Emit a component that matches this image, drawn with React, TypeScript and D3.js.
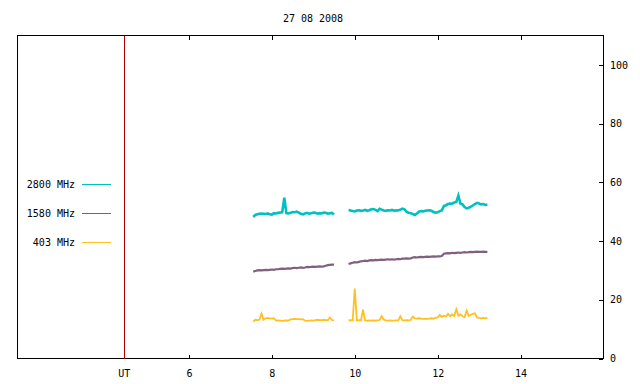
import { useEffect, useRef } from "react";
import * as d3 from "d3";

// chart texts and ticks
const title = "27 08 2008";
const xTicks = [6, 8, 10, 12, 14];
const yTicks = [0, 20, 40, 60, 80, 100];
const utTime = 4.44; // red marker line, labelled "UT"

// sampling of the two observing runs (hours UT)
const sampleStep = 0.05;
const run1Start = 7.55;
const run2Start = 9.85;

// 2800 MHz flux, run 1 and run 2
const f2800Run1 = [
  48.2, 48.9, 49.1, 49.3, 49.4, 49.3, 49.2, 49.4, 49.1, 49.0,
  49.5, 49.4, 49.6, 49.7, 49.8, 54.8, 49.5, 49.4, 49.6, 49.9,
  49.8, 50.0, 49.7, 49.3, 49.1, 49.4, 49.6, 49.3, 49.5, 49.7,
  49.6, 49.3, 49.5, 49.4, 49.7, 49.6, 49.3, 49.5, 49.6, 49.0,
];
const f2800Run2 = [
  50.6, 50.4, 50.2, 50.1, 50.4, 50.5, 50.3, 50.4, 50.6, 50.3,
  50.5, 50.8, 50.9, 50.6, 50.2, 51.0, 50.7, 50.4, 50.3, 50.5,
  50.4, 50.6, 50.3, 50.5, 50.4, 50.7, 51.0, 50.8, 50.0, 49.6,
  49.5, 49.2, 48.9, 49.4, 50.0, 50.2, 50.1, 50.3, 50.4, 50.5,
  50.3, 49.9, 49.7, 49.8, 50.2, 50.4, 51.9, 52.2, 52.6, 52.8,
  52.7, 53.1, 53.3, 55.5, 52.8, 52.5, 51.6, 51.1, 51.3, 51.7,
  52.1, 52.6, 53.0, 52.8, 52.5, 52.6, 52.3, 52.4,
];

// 1580 MHz flux
const f1580Run1 = [
  29.6, 29.8, 30.0, 30.1, 30.0, 30.1, 30.2, 30.1, 30.2, 30.3,
  30.2, 30.4, 30.4, 30.5, 30.6, 30.5, 30.6, 30.7, 30.6, 30.8,
  30.9, 30.8, 30.9, 31.0, 30.9, 31.0, 31.2, 31.1, 31.2, 31.3,
  31.2, 31.3, 31.4, 31.3, 31.4, 31.6, 31.8, 31.9, 32.0, 32.0,
];
const f1580Run2 = [
  32.2, 32.4, 32.6, 32.8, 32.7, 32.9, 33.1, 33.2, 33.3, 33.2,
  33.4, 33.5, 33.4, 33.6, 33.5, 33.6, 33.7, 33.6, 33.7, 33.8,
  33.7, 33.8, 33.7, 33.8, 33.9, 33.8, 34.0, 34.0, 34.1, 34.0,
  34.1, 34.4, 34.5, 34.4, 34.5, 34.6, 34.5, 34.6, 34.7, 34.6,
  34.7, 34.8, 34.7, 34.8, 34.8, 34.9, 35.7, 35.8, 35.9, 35.8,
  36.0, 35.9, 36.0, 36.1, 36.0, 36.1, 36.2, 36.1, 36.2, 36.3,
  36.2, 36.3, 36.4, 36.3, 36.3, 36.4, 36.3, 36.3,
];

// 403 MHz flux
const f403Run1 = [
  12.6, 13.2, 13.1, 13.2, 15.3, 13.2, 13.7, 13.8, 13.7, 13.6,
  13.7, 12.9, 13.0, 12.9, 12.8, 12.9, 13.0, 12.9, 13.3, 13.4,
  13.5, 13.4, 13.4, 13.3, 13.4, 12.9, 12.8, 12.9, 13.0, 12.9,
  13.1, 13.2, 13.1, 13.1, 13.2, 13.1, 13.0, 14.0, 13.1, 13.0,
];
const f403Run2 = [
  13.0, 13.1, 13.0, 23.8, 13.0, 13.1, 13.0, 16.6, 13.0, 12.9,
  13.0, 12.9, 13.0, 12.9, 13.0, 13.1, 14.4, 13.3, 13.0, 12.9,
  13.0, 12.9, 12.9, 13.0, 13.0, 14.4, 13.0, 13.0, 13.1, 13.0,
  13.1, 14.3, 13.7, 13.6, 13.7, 13.6, 13.5, 13.6, 13.5, 13.6,
  13.7, 13.6, 13.8, 14.0, 14.8, 14.2, 14.6, 14.3, 15.2, 14.4,
  15.0, 14.5, 16.8, 14.6, 15.0, 14.4, 14.1, 16.3, 14.5, 14.9,
  15.2, 15.4, 14.0, 13.8, 13.7, 13.8, 13.7, 13.8,
];

const series = [
  { label: "2800 MHz", color: "#00c0c0", width: 2.6, runs: [f2800Run1, f2800Run2] },
  { label: "1580 MHz", color: "#806080", width: 2.2, runs: [f1580Run1, f1580Run2] },
  { label: "403 MHz", color: "#ffc020", width: 1.8, runs: [f403Run1, f403Run2] },
];
const runStarts = [run1Start, run2Start];

export default function App() {
  const ref = useRef<SVGSVGElement>(null);

  useEffect(() => {
    if (!ref.current) return;
    const width = 640,
      height = 384;
    const left = 17,
      right = 603,
      top = 35.5,
      bottom = 358.5;
    const font = "'DejaVu Sans Mono', monospace";

    const svg = d3.select(ref.current);
    svg.selectAll("*").remove();
    svg.attr("width", width).attr("height", height);

    svg.append("rect").attr("width", width).attr("height", height).attr("fill", "#fff");

    const x = d3.scaleLinear().domain([1.85, 15.99]).range([left, right]);
    const y = d3.scaleLinear().domain([0, 110]).range([bottom, top]);

    // title
    svg
      .append("text")
      .attr("x", 313)
      .attr("y", 18)
      .attr("text-anchor", "middle")
      .attr("dominant-baseline", "central")
      .style("font-family", font)
      .style("font-size", "10px")
      .text(title);

    // bottom axis (ticks inward)
    const xb = svg
      .append("g")
      .attr("transform", `translate(0,${bottom})`)
      .call(d3.axisBottom(x).tickValues(xTicks).tickSize(-4).tickPadding(11).tickFormat(d3.format("d")));
    xb.select(".domain").remove();

    // top mirror ticks
    const xt = svg
      .append("g")
      .attr("transform", `translate(0,${top})`)
      .call(d3.axisTop(x).tickValues(xTicks).tickSize(-4).tickFormat(() => ""));
    xt.select(".domain").remove();

    // right axis
    const yr = svg
      .append("g")
      .attr("transform", `translate(${right},0)`)
      .call(d3.axisRight(y).tickValues(yTicks).tickSize(-4).tickPadding(7));
    yr.select(".domain").remove();

    svg
      .selectAll(".tick text")
      .style("font-family", font)
      .style("font-size", "10px")
      .attr("fill", "#000");
    svg.selectAll(".tick line").attr("stroke", "#000").attr("shape-rendering", "crispEdges");

    // frame
    svg
      .append("rect")
      .attr("x", left + 0.5)
      .attr("y", top)
      .attr("width", right - left)
      .attr("height", bottom - top)
      .attr("fill", "none")
      .attr("stroke", "#000")
      .attr("shape-rendering", "crispEdges");

    // UT marker
    svg
      .append("line")
      .attr("x1", Math.round(x(utTime)) + 0.5)
      .attr("x2", Math.round(x(utTime)) + 0.5)
      .attr("y1", top)
      .attr("y2", bottom)
      .attr("stroke", "#b00000")
      .attr("shape-rendering", "crispEdges");
    svg
      .append("text")
      .attr("x", x(utTime))
      .attr("y", bottom + 11)
      .attr("dy", "0.71em")
      .attr("text-anchor", "middle")
      .style("font-family", font)
      .style("font-size", "10px")
      .text("UT");

    // data traces
    series.forEach((s) => {
      s.runs.forEach((vals, r) => {
        const line = d3
          .line<number>()
          .x((_, i) => x(runStarts[r] + i * sampleStep))
          .y((d) => y(d));
        svg
          .append("path")
          .datum(vals)
          .attr("d", line)
          .attr("fill", "none")
          .attr("stroke", s.color)
          .attr("stroke-width", s.width)
          .attr("stroke-linejoin", "miter");
      });
    });

    // legend
    series.forEach((s, i) => {
      const ly = 184.5 + i * 29;
      svg
        .append("text")
        .attr("x", 75)
        .attr("y", ly)
        .attr("text-anchor", "end")
        .attr("dominant-baseline", "central")
        .style("font-family", font)
        .style("font-size", "10px")
        .text(s.label);
      svg
        .append("line")
        .attr("x1", 82)
        .attr("x2", 111)
        .attr("y1", ly)
        .attr("y2", ly)
        .attr("stroke", s.color)
        .attr("stroke-width", 1);
    });
  }, []);

  return <svg ref={ref} style={{ position: "absolute", left: 0, top: 0 }} />;
}
